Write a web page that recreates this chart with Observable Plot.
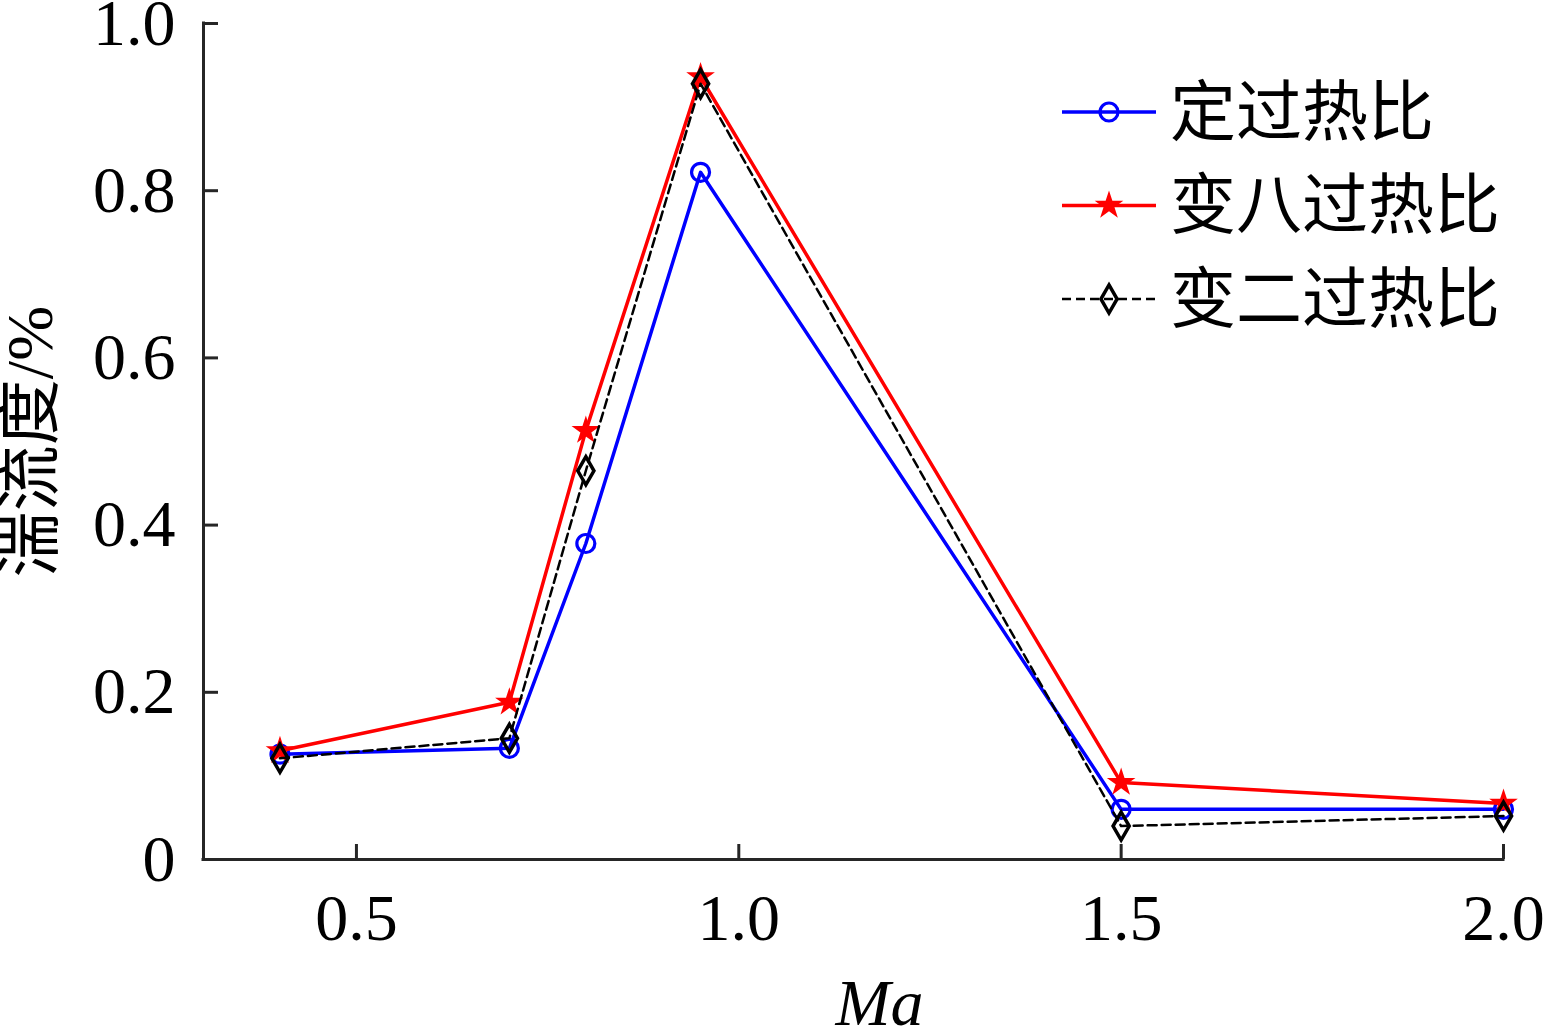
<!DOCTYPE html>
<html><head><meta charset="utf-8">
<script src="https://cdn.jsdelivr.net/npm/d3@7"></script>
<script src="https://cdn.jsdelivr.net/npm/@observablehq/plot@0.6"></script>
<style>
body{margin:0;background:#fff}
#wrap{position:relative;width:1546px;height:1028px}
#legend{position:absolute;left:0;top:0;pointer-events:none}
</style>
</head><body>
<div id="wrap"></div>
<script>
const machX = [0.4, 0.7, 0.8, 0.95, 1.5, 2.0];
const seriesNames = ["定过热比", "变八过热比", "变二过热比"];
const constRatio = [0.126, 0.133, 0.378, 0.822, 0.060, 0.060];
const eightRatio = [0.130, 0.188, 0.513, 0.936, 0.092, 0.067];
const twoRatio   = [0.121, 0.145, 0.465, 0.928, 0.040, 0.052];
const xTicks = [0.5, 1.0, 1.5, 2.0];
const yTicks = [0, 0.2, 0.4, 0.6, 0.8, 1.0];
const xLabel = "Ma";
const yLabel = "湍流度/%";

const rows = vals => machX.map((x, i) => ({x, v: vals[i]}));
const dConst = rows(constRatio), dEight = rows(eightRatio), dTwo = rows(twoRatio);

const W = 1546, H = 1028, mL = 203, mR = 43, mT = 23, mB = 169;
const axisColor = "#262626";
const font = "'Liberation Serif', 'Noto Sans CJK SC', serif";
const rCircle = 9, rStar = 9, rDiamond = 8.5;

const chart = Plot.plot({
  width: W, height: H,
  marginLeft: mL, marginRight: mR, marginTop: mT, marginBottom: mB,
  style: {fontFamily: font, fontSize: "66px", background: "white", color: "#000", overflow: "visible"},
  x: {domain: [0.3, 2.0], label: null},
  y: {domain: [0, 1], label: null},
  marks: [
    Plot.axisY(yTicks, {tickSize: 0, tickPadding: 28, tickFormat: d => d === 0 ? "0" : d.toFixed(1), label: null, fontSize: 66}),
    Plot.axisX(xTicks, {tickSize: 0, tickPadding: 34, tickFormat: d => d.toFixed(1), label: null, fontSize: 66}),
    Plot.tickY(yTicks, {y: d => d, stroke: axisColor, strokeWidth: 3, insetRight: W - mL - mR - 15}),
    Plot.tickX(xTicks, {x: d => d, stroke: axisColor, strokeWidth: 3, insetTop: H - mT - mB - 15}),
    Plot.ruleX([0.3], {stroke: axisColor, strokeWidth: 3, strokeLinecap: "square"}),
    Plot.ruleY([0], {stroke: axisColor, strokeWidth: 3, strokeLinecap: "square"}),
    Plot.line(dConst, {x: "x", y: "v", stroke: "#0000ff", strokeWidth: 3.5}),
    Plot.dot(dConst, {x: "x", y: "v", r: rCircle, stroke: "#0000ff", strokeWidth: 3.2, fill: "none"}),
    Plot.line(dEight, {x: "x", y: "v", stroke: "#ff0000", strokeWidth: 3.5}),
    Plot.dot(dEight, {x: "x", y: "v", r: rStar, symbol: "star", fill: "#ff0000", stroke: "none"}),
    Plot.line(dTwo, {x: "x", y: "v", stroke: "#000", strokeWidth: 2.5, strokeDasharray: "9,5"}),
    Plot.dot(dTwo, {x: "x", y: "v", r: rDiamond, symbol: "diamond", stroke: "#000", strokeWidth: 3.5, fill: "none"}),
    Plot.text([xLabel], {frameAnchor: "bottom", dx: 26, dy: 144, fontStyle: "italic", fontSize: 66, textAnchor: "middle", lineAnchor: "middle", fill: "#000"}),
    Plot.text([yLabel], {frameAnchor: "left", dx: -173, rotate: -90, fontSize: 66, textAnchor: "middle", lineAnchor: "middle", fill: "#000"})
  ]
});
document.getElementById("wrap").appendChild(chart);

// legend overlay
const legend = d3.select("#wrap").append("svg").attr("id", "legend").attr("width", W).attr("height", H);
const styles = [
  {stroke: "#0000ff", width: 3.5, dash: null, sym: d3.symbolCircle, size: Math.PI * rCircle * rCircle, fill: "none", mstroke: "#0000ff", sw: 3.2},
  {stroke: "#ff0000", width: 3.5, dash: null, sym: d3.symbolStar, size: Math.PI * rStar * rStar, fill: "#ff0000", mstroke: "none", sw: 0},
  {stroke: "#000", width: 2.5, dash: "9,5", sym: d3.symbolDiamond, size: Math.PI * rDiamond * rDiamond, fill: "none", mstroke: "#000", sw: 3.5}
];
seriesNames.forEach((name, i) => {
  const s = styles[i];
  const g = legend.append("g").attr("transform", `translate(1062,${112 + i * 93.5})`);
  g.append("line").attr("x1", 0).attr("x2", 94).attr("y1", 0).attr("y2", 0)
    .attr("stroke", s.stroke).attr("stroke-width", s.width).attr("stroke-dasharray", s.dash);
  g.append("path").attr("transform", "translate(47,0)").attr("d", d3.symbol(s.sym, s.size)())
    .attr("fill", s.fill).attr("stroke", s.mstroke).attr("stroke-width", s.sw);
  g.append("text").attr("x", 108).attr("y", 0).attr("dominant-baseline", "central")
    .attr("font-family", font).attr("font-size", 66).attr("fill", "#000").text(name);
});
</script>
</body></html>
